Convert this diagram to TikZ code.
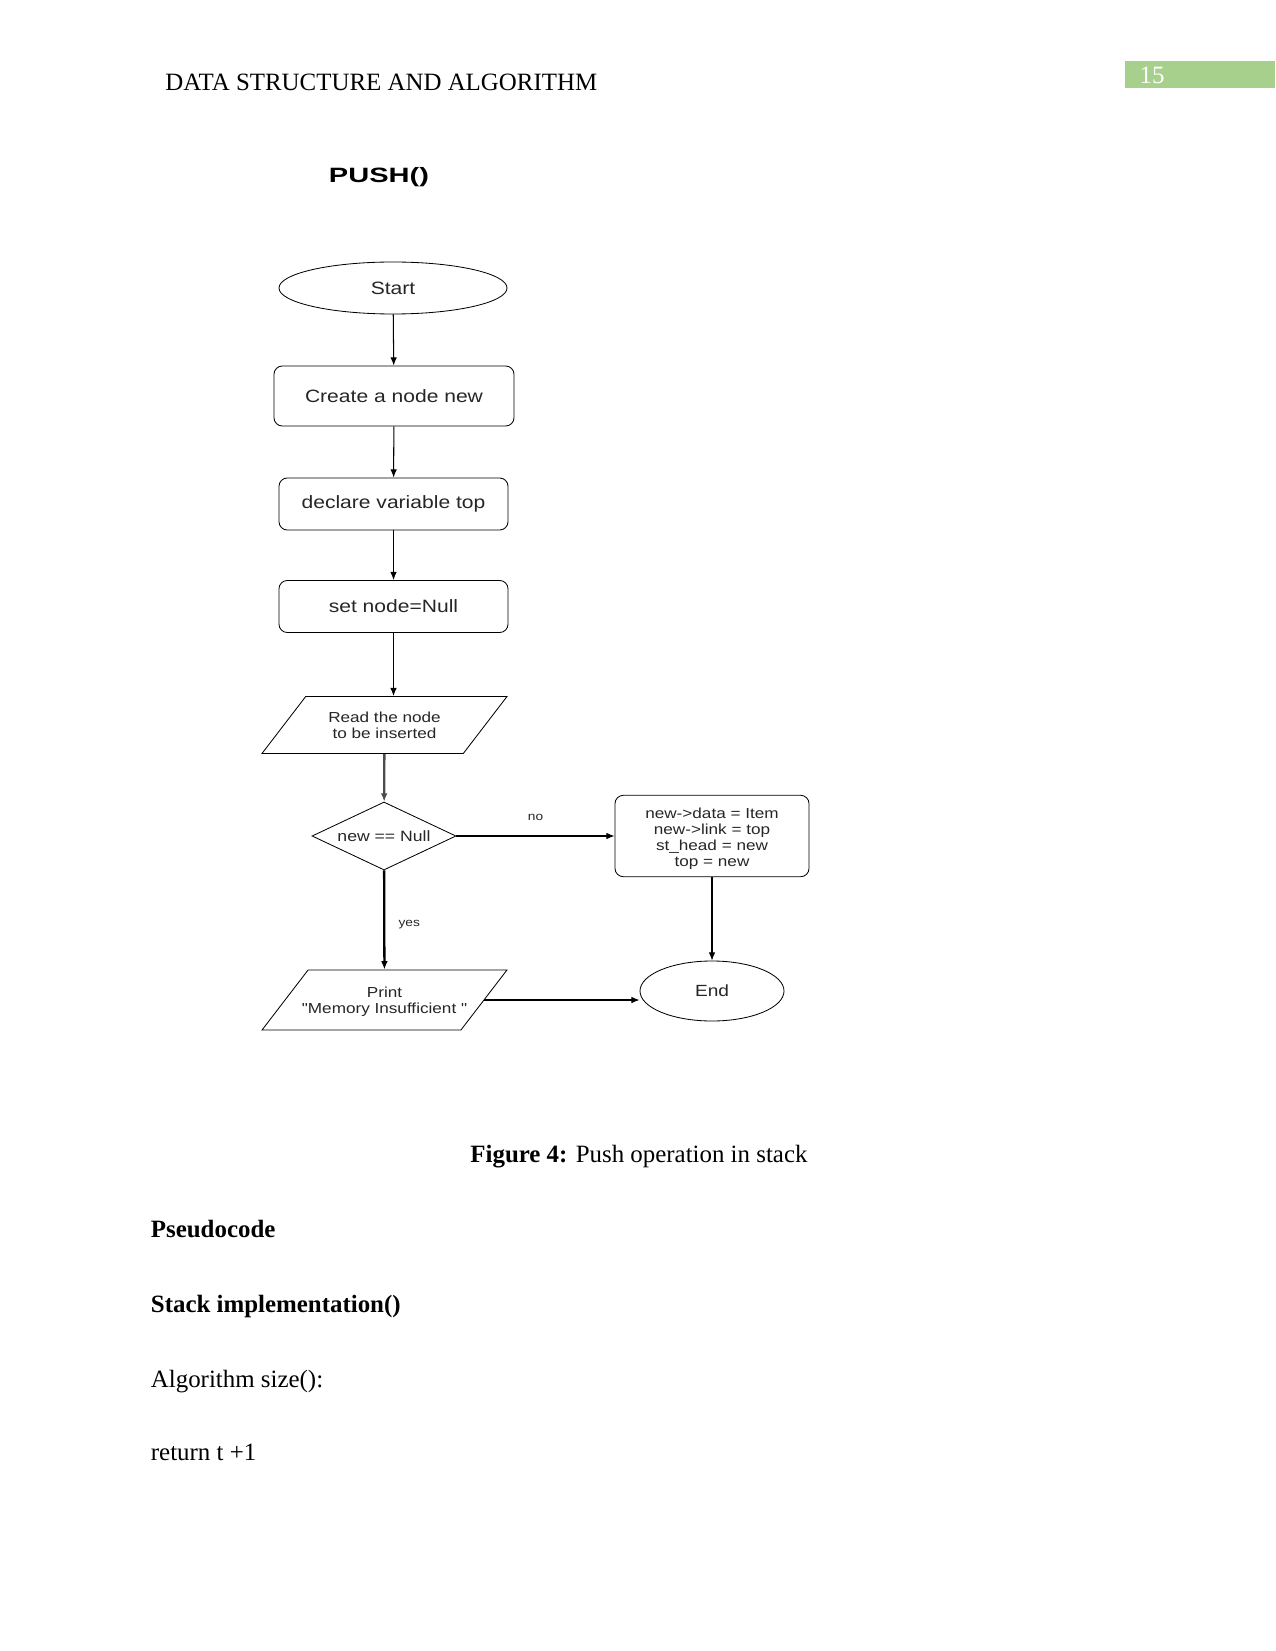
\documentclass[tikz,border=0pt]{standalone}
\usepackage{fontspec}
\setmainfont{Liberation Serif}
\newfontfamily\chartfont[FakeStretch=1.18]{Liberation Sans}
\newfontfamily\pushfont[FakeStretch=1.4]{Liberation Sans}
\usetikzlibrary{arrows.meta,shapes.geometric}
\definecolor{pagebar}{HTML}{A8D08D}
\definecolor{chartink}{HTML}{262626}
\newcommand{\pxu}{0.4818pt}

\begin{document}
\begin{tikzpicture}[x=\pxu,y=-\pxu,>={Latex[length=4pt,width=3.2pt]},
term/.style={draw,ellipse,inner sep=0pt,text=chartink,font=\chartfont\fontsize{8.6}{10}\selectfont},
proc/.style={draw,rounded corners=4pt,minimum width=229*\pxu,minimum height=52*\pxu,align=center,text=chartink,font=\chartfont\fontsize{8.6}{10}\selectfont},
io/.style={draw,trapezium,trapezium left angle=52.5,trapezium right angle=127.5,trapezium stretches body,minimum width=245*\pxu,inner xsep=0pt,inner ysep=7.3pt,align=center,text=chartink,font=\chartfont\fontsize{7}{7.7}\selectfont},
decide/.style={draw,diamond,aspect=2.1,minimum width=144*\pxu,minimum height=68*\pxu,inner sep=0pt,text=chartink,font=\chartfont\fontsize{7.2}{8}\selectfont},
lbl/.style={text=chartink,font=\chartfont\fontsize{5.6}{6}\selectfont},
flow/.style={->,line width=0.5pt},heavy/.style={->,line width=1.1pt},
body/.style={anchor=base west,inner sep=0pt,font=\fontsize{12}{14}\selectfont}]
\useasboundingbox (0,0) rectangle (1275,1651);
% page head
\node[body] (head) at (165,90.5) {DATA STRUCTURE AND ALGORITHM};
\fill[pagebar] (1125,61) rectangle (1275,88);
\node[anchor=base,inner sep=0pt,text=white,font=\fontsize{12}{14}\selectfont] (pageno) at (1152,84) {15};
\node[anchor=base,inner sep=0pt,font=\pushfont\bfseries\fontsize{10}{12}\selectfont] (title) at (379,183) {PUSH()};
% flowchart
\node[term,minimum width=228*\pxu,minimum height=52*\pxu] (start) at (393,288) {Start};
\node[proc,minimum width=240*\pxu,minimum height=60*\pxu] (create) at (394,396) {Create a node new};
\node[proc] (declare) at (393.5,504) {declare variable top};
\node[proc] (setnull) at (393.5,606.5) {set node=Null};
\node[io] (read) at (384.5,725) {Read the node\\to be inserted};
\node[decide] (check) at (384,836) {new == Null};
\node[proc,minimum width=194*\pxu,minimum height=76*\pxu,font=\chartfont\fontsize{7}{7.7}\selectfont] (update) at (712,836) {\rule{0pt}{8pt}new->data = Item\\new->link = top\\st\_head = new\\top = new};
\node[io,inner ysep=6.4pt,inner xsep=-3.2pt] (print) at (384.5,1000) {\rule{0pt}{7pt}Print\\"Memory Insufficient "};
\node[term,minimum width=144*\pxu,minimum height=60*\pxu,font=\chartfont\fontsize{7.8}{9}\selectfont] (finish) at (712,991) {End};
\draw[flow] (start) -- (create);
\draw[flow] (create) -- (declare);
\draw[flow] (declare) -- (setnull);
\draw[flow] (setnull.south) -- (setnull.south |- read.north);
\draw[heavy,draw=black!70] (read) -- (check);
\draw[flow] (check) -- node[lbl,above=4pt] {no} (update);
\draw[heavy] (check) -- node[lbl,right=3pt,pos=0.55] {yes} (print);
\draw[flow] (update) -- (finish);
\draw[flow] (print.east) -- (print.east -| finish.west);
% caption and text below
\node[body] (caption) at (470,1162) {\textbf{Figure 4:} Push operation in stack};
\node[body,font=\bfseries\fontsize{12}{14}\selectfont] (pseudo) at (150.5,1237) {Pseudocode};
\node[body,font=\bfseries\fontsize{12}{14}\selectfont] (stackimpl) at (150.5,1312) {Stack implementation()};
\node[body] (sizealg) at (150.5,1387) {Algorithm size():};
\node[body] (retline) at (150.5,1460) {return t +1};
\end{tikzpicture}
\end{document}
